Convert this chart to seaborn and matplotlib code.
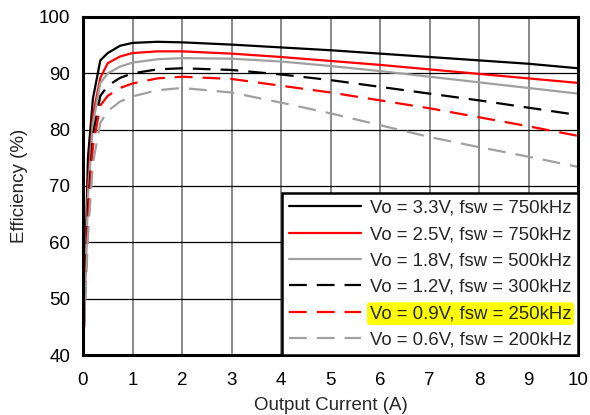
import matplotlib
matplotlib.use("Agg")
import matplotlib.pyplot as plt
import seaborn as sns
import numpy as np

current = [0.0, 0.1, 0.2, 0.35, 0.5, 0.75, 1, 1.5, 2, 3, 4, 5, 6, 7, 8, 9, 10]
eff_33 = [40, 75, 85.5, 92.3, 93.6, 94.9, 95.4, 95.6, 95.5, 95.1, 94.6, 94.1, 93.5, 92.9, 92.3, 91.7, 90.9]
eff_25 = [40, 70, 82.5, 89.2, 91.8, 93.0, 93.6, 93.9, 93.9, 93.5, 92.9, 92.2, 91.5, 90.7, 89.9, 89.1, 88.3]
eff_18 = [40, 68, 81, 88.3, 90.0, 91.2, 91.9, 92.5, 92.7, 92.6, 92.1, 91.3, 90.4, 89.4, 88.4, 87.4, 86.4]
eff_12 = [40, 66, 79, 86.0, 87.8, 89.2, 90.0, 90.7, 90.9, 90.6, 89.8, 88.8, 87.6, 86.4, 85.2, 83.9, 82.6]
eff_09 = [40, 64, 77, 84.3, 86.0, 87.4, 88.2, 89.1, 89.4, 89.0, 87.8, 86.6, 85.2, 83.8, 82.2, 80.6, 78.9]
eff_06 = [40, 61, 74, 81.2, 83.3, 85.0, 85.9, 87.0, 87.4, 86.6, 84.8, 82.9, 80.8, 78.7, 76.9, 75.2, 73.4]

labels = ["Vo = 3.3V, fsw = 750kHz", "Vo = 2.5V, fsw = 750kHz", "Vo = 1.8V, fsw = 500kHz",
          "Vo = 1.2V, fsw = 300kHz", "Vo = 0.9V, fsw = 250kHz", "Vo = 0.6V, fsw = 200kHz"]
series = [eff_33, eff_25, eff_18, eff_12, eff_09, eff_06]
colors = ["black", "#ff0000", "#a0a0a0", "black", "#ff0000", "#a0a0a0"]
solid = [True, True, True, False, False, False]

x_ticks = list(range(0, 11))
y_ticks = [40, 50, 60, 70, 80, 90, 100]

sns.set_style("white")
plt.rcParams['font.family'] = ['Liberation Sans', 'DejaVu Sans']

fig = plt.figure(figsize=(5.9, 4.15), dpi=100)
ax = fig.add_axes([83/590, 1-355/415, (578-83)/590, (355-17)/415])

for y, lab, c, s in zip(series, labels, colors, solid):
    ls = "-" if s else (0, (8, 4.5))
    sns.lineplot(x=current, y=y, ax=ax, color=c, linestyle=ls, linewidth=1.6, label=lab)

ax.set_xlim(0, 10)
ax.set_ylim(40, 100)
ax.set_xticks(x_ticks)
ax.set_yticks(y_ticks)
ax.tick_params(axis='both', length=0, labelsize=13.5, colors='black')
ax.tick_params(axis='x', pad=12)
ax.tick_params(axis='y', pad=9)
for v in x_ticks[1:-1]:
    ax.axvline(v, color='#808080', lw=1.3, zorder=0)
for v in y_ticks[1:-1]:
    ax.axhline(v, color='black', lw=0.9, zorder=0)
for sp in ax.spines.values():
    sp.set_color('black')
    sp.set_linewidth(2.2)
ax.set_xlabel("Output Current (A)", fontsize=13.5, labelpad=6)
ax.set_ylabel("Efficiency (%)", fontsize=13.5, labelpad=8)

leg = ax.legend(loc='lower right', fontsize=13.4, frameon=True, fancybox=False,
                borderaxespad=0.0, handlelength=3.9, handletextpad=0.45,
                labelspacing=0.5, borderpad=0.35)
leg.get_frame().set_edgecolor('black')
leg.get_frame().set_linewidth(1.8)
leg.get_frame().set_alpha(1)
for t in leg.get_texts():
    if "0.9V" in t.get_text():
        t.set_bbox(dict(facecolor='#ffff00', edgecolor='none', boxstyle='round,pad=0.15'))

fig.savefig("out.png", dpi=100)
